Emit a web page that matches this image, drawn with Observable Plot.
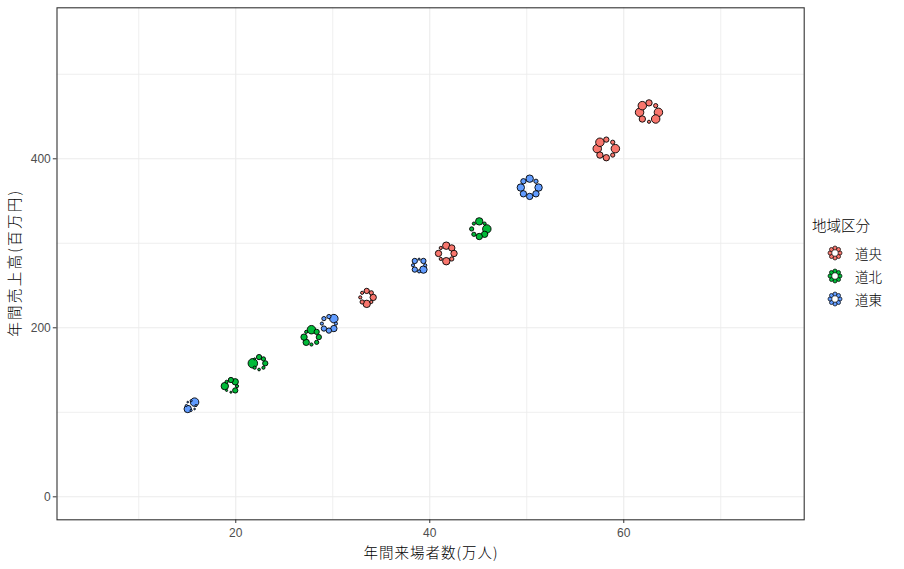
<!DOCTYPE html>
<html><head><meta charset="utf-8">
<script src="https://cdn.jsdelivr.net/npm/d3@7"></script>
<script src="https://cdn.jsdelivr.net/npm/@observablehq/plot@0.6"></script>
<style>
body{margin:0;background:#fff;font-family:"Noto Sans CJK JP","Noto Sans",sans-serif}
#wrap{position:relative;width:904px;height:569px}
#legend{position:absolute;left:812px;top:215px;color:#000}
#legend .title{font-size:14.5px;line-height:20px;margin-bottom:6px;font-weight:300}
#legend .item{display:flex;align-items:center;height:23px;font-size:13.5px;font-weight:300}
#legend svg{margin-left:15px;margin-right:12px}
</style>
</head><body>
<div id="wrap"><div id="legend"></div></div>
<script>
// ---- data ----
const regions = ["道央", "道北", "道東"];
const regionColors = ["#F8766D", "#00BA38", "#619CFF"];
const clusterRegion = ["道東","道北","道北","道北","道東","道央","道東","道央","道北","道東","道央","道央"];
const visitors = [15.4, 19.5, 22.4, 27.8, 29.6, 33.5, 38.9, 41.7, 45.1, 50.3, 58.2, 62.6]; // 万人
const sales = [108, 131, 158, 189, 205, 236, 274, 288, 317, 366, 412, 455];                // 百万円
// petal values, clockwise from top: top, upper-right, right, lower-right, bottom, lower-left, left, upper-left
const petals = [
  [1.0, 4.0, 1.0, 0.8, 1.0, 3.5, 1.0, 0.8],
  [2.5, 3.0, 1.5, 2.5, 1.0, 1.0, 3.5, 1.5],
  [2.5, 2.0, 2.5, 1.5, 1.3, 1.5, 4.5, 1.0],
  [4.0, 2.5, 2.5, 2.0, 1.5, 3.0, 3.0, 1.5],
  [2.0, 4.0, 1.5, 3.0, 2.5, 2.5, 1.5, 2.0],
  [2.5, 2.0, 3.0, 1.5, 3.5, 2.0, 1.5, 1.5],
  [1.0, 2.5, 1.5, 3.5, 1.5, 2.5, 1.5, 2.5],
  [3.5, 3.0, 3.0, 2.0, 3.5, 1.5, 3.0, 1.5],
  [3.5, 1.5, 4.0, 3.0, 3.0, 2.0, 2.0, 1.5],
  [3.5, 2.0, 3.5, 3.0, 3.0, 3.0, 3.5, 2.5],
  [2.5, 2.0, 4.0, 2.0, 3.0, 3.0, 4.0, 4.0],
  [3.0, 2.0, 4.0, 4.0, 1.5, 3.0, 4.0, 4.0]
];
const xTicks = [20, 40, 60];
const xMinor = [10, 30, 50, 70];
const yTicks = [0, 200, 400];
const yMinor = [100, 300, 500];
const xTitle = "年間来場者数(万人)";
const yTitle = "年間売上高(百万円)";

// ---- layout ----
const W = 904, H = 569;
const mL = 56.5, mR = 100.3, mT = 7.3, mB = 49.7;
const xDom = [1.57, 78.6], yDom = [-27.2, 578.7];
const kx = (W - mL - mR) / (xDom[1] - xDom[0]);
const ky = (H - mT - mB) / (yDom[1] - yDom[0]);

// ring of petals around each data point (ring radius from petal sizes)
const rows = [];
petals.forEach((p, i) => {
  const ring = 0.37 * d3.sum(p);
  p.forEach((v, k) => {
    const th = (90 - 45 * k) * Math.PI / 180;
    rows.push({
      region: clusterRegion[i],
      visitors: visitors[i], sales: sales[i],
      px: visitors[i] + ring * Math.cos(th) / kx,
      py: sales[i] + ring * Math.sin(th) / ky,
      v
    });
  });
});

const tickFont = '"Liberation Sans","Noto Sans",sans-serif';
const chart = Plot.plot({
  width: W, height: H,
  marginLeft: mL, marginRight: mR, marginTop: mT, marginBottom: mB,
  x: {domain: xDom},
  y: {domain: yDom},
  r: {type: "linear", domain: [0, 5], range: [0, 5.3]},
  color: {domain: regions, range: regionColors},
  style: {fontFamily: '"Noto Sans CJK JP","Noto Sans",sans-serif', background: "#fff"},
  marks: [
    Plot.gridX(xMinor, {stroke: "#EBEBEB", strokeOpacity: 1, strokeWidth: 0.8}),
    Plot.gridY(yMinor, {stroke: "#EBEBEB", strokeOpacity: 1, strokeWidth: 0.8}),
    Plot.gridX(xTicks, {stroke: "#EBEBEB", strokeOpacity: 1, strokeWidth: 1.1}),
    Plot.gridY(yTicks, {stroke: "#EBEBEB", strokeOpacity: 1, strokeWidth: 1.1}),
    Plot.axisX({ticks: xTicks, tickSize: 3.7, tickPadding: 5, stroke: "#333333", fill: "#4D4D4D", fontSize: 12, fontFamily: tickFont, label: null}),
    Plot.axisY({ticks: yTicks, tickSize: 3.7, tickPadding: 2.5, stroke: "#333333", fill: "#4D4D4D", fontSize: 12, fontFamily: tickFont, label: null}),
    Plot.dot(rows, {x: "px", y: "py", r: "v", fill: "region", stroke: "#000", strokeWidth: 0.9}),
    Plot.frame({stroke: "#333333", strokeWidth: 1.1}),
    Plot.text([xTitle], {frameAnchor: "bottom", lineAnchor: "middle", textAnchor: "middle", dy: 34, fontSize: 14.5, fontWeight: 300, fill: "#000"}),
    Plot.text([yTitle], {frameAnchor: "left", lineAnchor: "middle", textAnchor: "middle", dx: -42, rotate: -90, fontSize: 14.7, fontWeight: 300, fill: "#000"})
  ]
});
d3.select(chart).selectAll("text").each(function() {
  const t = this.textContent;
  if (t === xTitle) { this.setAttribute("textLength", 134); this.setAttribute("lengthAdjust", "spacing"); }
  if (t === yTitle) { this.setAttribute("textLength", 146); this.setAttribute("lengthAdjust", "spacing"); }
});
const wrap = document.getElementById("wrap");
wrap.insertBefore(chart, wrap.firstChild);

// legend
const leg = d3.select("#legend");
leg.append("div").attr("class", "title").text("地域区分");
regions.forEach((r, i) => {
  const it = leg.append("div").attr("class", "item");
  const s = it.append("svg").attr("width", 16).attr("height", 16);
  d3.range(8).forEach(k => {
    const th = k * Math.PI / 4;
    s.append("circle").attr("cx", 8 + 5 * Math.cos(th)).attr("cy", 8 + 5 * Math.sin(th))
      .attr("r", 2).attr("fill", regionColors[i]).attr("stroke", "#000").attr("stroke-width", 0.7);
  });
  it.append("span").text(r);
});
</script>
</body></html>
